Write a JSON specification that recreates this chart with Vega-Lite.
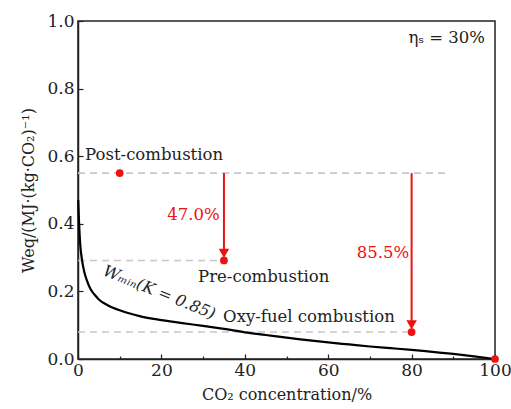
{
  "$schema": "https://vega.github.io/schema/vega-lite/v6.json",
  "width": 417,
  "height": 338,
  "autosize": {"type": "none"},
  "padding": {"left": 78, "top": 21, "right": 16, "bottom": 50},
  "background": "white",
  "config": {
    "font": "DejaVu Serif",
    "view": {"stroke": "#222", "strokeWidth": 1.5},
    "axis": {
      "grid": false,
      "domainColor": "#222",
      "domainWidth": 1.5,
      "tickColor": "#222",
      "tickWidth": 1.2,
      "labelFont": "DejaVu Serif",
      "labelFontSize": 17,
      "labelColor": "#222",
      "labelFlush": false,
      "labelOverlap": false,
      "titleFont": "DejaVu Serif",
      "titleFontSize": 16,
      "titleFontWeight": "normal",
      "titleColor": "#222"
    }
  },
  "datasets": {
    "curve": [
      {"c": 0.05, "w": 0.47}, {"c": 0.2, "w": 0.42}, {"c": 0.5, "w": 0.345}, {"c": 1, "w": 0.29},
      {"c": 1.5, "w": 0.258}, {"c": 2, "w": 0.237}, {"c": 3, "w": 0.207}, {"c": 4, "w": 0.19},
      {"c": 5, "w": 0.176}, {"c": 7, "w": 0.16}, {"c": 10, "w": 0.144}, {"c": 12, "w": 0.136},
      {"c": 15, "w": 0.126}, {"c": 20, "w": 0.115}, {"c": 25, "w": 0.106}, {"c": 30, "w": 0.098},
      {"c": 35, "w": 0.089}, {"c": 40, "w": 0.079}, {"c": 45, "w": 0.071}, {"c": 50, "w": 0.063},
      {"c": 55, "w": 0.056}, {"c": 60, "w": 0.049}, {"c": 65, "w": 0.043}, {"c": 70, "w": 0.037},
      {"c": 75, "w": 0.032}, {"c": 80, "w": 0.027}, {"c": 85, "w": 0.021}, {"c": 90, "w": 0.015},
      {"c": 95, "w": 0.008}, {"c": 100, "w": 0.0}
    ],
    "levels": [
      {"c1": 0, "c2": 89, "w": 0.55},
      {"c1": 0, "c2": 35, "w": 0.2915},
      {"c1": 0, "c2": 80, "w": 0.0798}
    ],
    "arrows": [
      {"c": 35, "w1": 0.55, "w2": 0.31, "head": 0.313},
      {"c": 80, "w1": 0.55, "w2": 0.098, "head": 0.101}
    ],
    "points": [
      {"c": 10, "w": 0.55}, {"c": 35, "w": 0.2915}, {"c": 80, "w": 0.0798}, {"c": 100, "w": 0.0}
    ],
    "labels": [
      {"c": 1.7, "w": 0.605, "text": "Post-combustion"},
      {"c": 28.8, "w": 0.242, "text": "Pre-combustion"},
      {"c": 34.8, "w": 0.124, "text": "Oxy-fuel combustion"}
    ],
    "pct": [
      {"c": 34, "w": 0.426, "text": "47.0%"},
      {"c": 79.4, "w": 0.313, "text": "85.5%"}
    ],
    "eta": [{"c": 97.6, "w": 0.95, "text": "ηₛ = 30%"}],
    "wmin": [{"c": 19.5, "w": 0.197, "text": "Wₘᵢₙ(K = 0.85)"}]
  },
  "layer": [
    {
      "data": {"name": "levels"},
      "mark": {"type": "rule", "color": "#c8c8c8", "strokeWidth": 1.6, "strokeDash": [7, 5]},
      "encoding": {
        "x": {"field": "c1", "type": "quantitative", "scale": {"domain": [0, 100], "nice": false},
          "axis": {
            "values": [0, 10, 20, 30, 40, 50, 60, 70, 80, 90, 100],
            "labelExpr": "datum.value % 20 == 0 ? datum.label : ''",
            "tickSize": {"condition": {"test": "datum.value % 20 == 0", "value": -5}, "value": -3},
            "labelPadding": 8,
            "title": "CO₂ concentration/%",
            "titlePadding": 6
          }},
        "x2": {"field": "c2"},
        "y": {"field": "w", "type": "quantitative", "scale": {"domain": [0, 1], "nice": false},
          "axis": {
            "values": [0, 0.1, 0.2, 0.3, 0.4, 0.5, 0.6, 0.7, 0.8, 0.9, 1.0],
            "format": ".1f",
            "labelExpr": "round(datum.value * 10) % 2 == 0 ? datum.label : ''",
            "tickSize": {"condition": {"test": "round(datum.value * 10) % 2 == 0", "value": -5}, "value": -3},
            "labelPadding": 9,
            "title": "Weq/(MJ·(kg·CO₂)⁻¹)",
            "titlePadding": 10
          }}
      }
    },
    {
      "data": {"name": "curve"},
      "mark": {"type": "line", "color": "#000", "strokeWidth": 2.2, "interpolate": "monotone"},
      "encoding": {
        "x": {"field": "c", "type": "quantitative"},
        "y": {"field": "w", "type": "quantitative"}
      }
    },
    {
      "data": {"name": "arrows"},
      "mark": {"type": "rule", "color": "#ee1111", "strokeWidth": 2},
      "encoding": {
        "x": {"field": "c", "type": "quantitative"},
        "y": {"field": "w1", "type": "quantitative"},
        "y2": {"field": "w2"}
      }
    },
    {
      "data": {"name": "arrows"},
      "mark": {"type": "point", "shape": "triangle-down", "filled": true, "color": "#ee1111", "size": 110, "opacity": 1},
      "encoding": {
        "x": {"field": "c", "type": "quantitative"},
        "y": {"field": "head", "type": "quantitative"}
      }
    },
    {
      "data": {"name": "points"},
      "mark": {"type": "circle", "color": "#ee1111", "size": 60, "opacity": 1},
      "encoding": {
        "x": {"field": "c", "type": "quantitative"},
        "y": {"field": "w", "type": "quantitative"}
      }
    },
    {
      "data": {"name": "labels"},
      "mark": {"type": "text", "align": "left", "baseline": "middle", "fontSize": 16.5, "font": "DejaVu Serif", "color": "#222"},
      "encoding": {
        "x": {"field": "c", "type": "quantitative"},
        "y": {"field": "w", "type": "quantitative"},
        "text": {"field": "text"}
      }
    },
    {
      "data": {"name": "pct"},
      "mark": {"type": "text", "align": "right", "baseline": "middle", "fontSize": 16.5, "font": "DejaVu Serif", "color": "#ee1111"},
      "encoding": {
        "x": {"field": "c", "type": "quantitative"},
        "y": {"field": "w", "type": "quantitative"},
        "text": {"field": "text"}
      }
    },
    {
      "data": {"name": "eta"},
      "mark": {"type": "text", "align": "right", "baseline": "middle", "fontSize": 16.5, "font": "DejaVu Serif", "color": "#222"},
      "encoding": {
        "x": {"field": "c", "type": "quantitative"},
        "y": {"field": "w", "type": "quantitative"},
        "text": {"field": "text"}
      }
    },
    {
      "data": {"name": "wmin"},
      "mark": {"type": "text", "align": "center", "baseline": "middle", "fontSize": 16, "font": "DejaVu Serif", "fontStyle": "italic", "angle": 22, "color": "#222"},
      "encoding": {
        "x": {"field": "c", "type": "quantitative"},
        "y": {"field": "w", "type": "quantitative"},
        "text": {"field": "text"}
      }
    }
  ]
}
